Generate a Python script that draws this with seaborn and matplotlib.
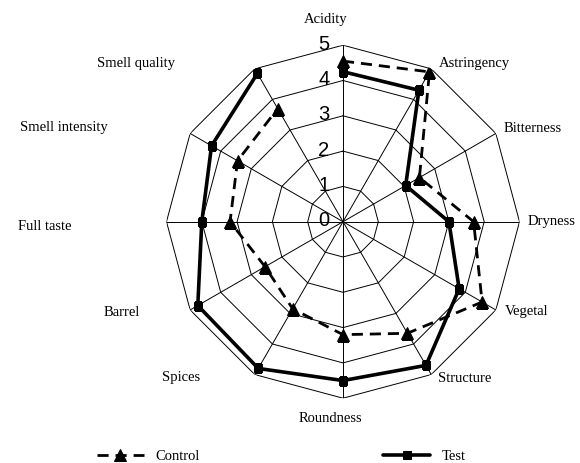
import numpy as np
import matplotlib
matplotlib.use("Agg")
import matplotlib.pyplot as plt
import seaborn as sns

# attributes, clockwise from the top
attributes = ["Acidity", "Astringency", "Bitterness", "Dryness", "Vegetal", "Structure",
              "Roundness", "Spices", "Barrel", "Full taste", "Smell intensity", "Smell quality"]
control = [4.55, 4.9, 2.5, 3.7, 4.55, 3.65, 3.2, 2.85, 2.55, 3.2, 3.45, 3.7]
test = [4.25, 4.3, 2.05, 3.0, 3.8, 4.7, 4.5, 4.8, 4.75, 4.0, 4.3, 4.85]
rings = [1, 2, 3, 4, 5]
ring_labels = ["0", "1", "2", "3", "4", "5"]

# label placement in pixels (x, y from top, horizontal alignment)
label_pos = [(326, 20, "center"), (439, 63, "left"), (504, 128, "left"), (528, 221, "left"),
             (505, 312, "left"), (438, 378, "left"), (330, 418, "center"), (200, 378, "right"),
             (140, 312, "right"), (71, 227, "right"), (108, 127, "right"), (175, 63, "right")]

W, H = 580, 463
sns.set_style("white")
plt.rcParams["font.family"] = ["Liberation Serif", "DejaVu Serif"]
plt.rcParams["text.color"] = "black"

fig = plt.figure(figsize=(W / 100, H / 100), dpi=100)
cx, cy, R = 343, 221.7, 176.5
ax = fig.add_axes([(cx - R) / W, 1 - (cy + R) / H, 2 * R / W, 2 * R / H], projection="polar")
ax.set_theta_zero_location("N")
ax.set_theta_direction(-1)
ax.set_ylim(0, 5)
ax.set_axis_off()

n = len(attributes)
theta = np.deg2rad(np.arange(n) * 360 / n)
theta_closed = np.append(theta, theta[0])

# polygon grid and spokes
for r in rings:
    ax.plot(theta_closed, [r] * (n + 1), color="black", lw=0.7, zorder=1)
for t in theta:
    ax.plot([t, t], [0, 5], color="black", lw=0.7, zorder=1)

sns.lineplot(x=theta_closed, y=control + control[:1], sort=False, ax=ax, color="black",
             lw=2, linestyle=(0, (4, 2.5)), marker="^", markersize=8, markeredgecolor="black",
             label="Control", zorder=3)
sns.lineplot(x=theta_closed, y=test + test[:1], sort=False, ax=ax, color="black",
             lw=2.6, marker="s", markersize=5.5, markeredgecolor="black",
             label="Test", zorder=4)
handles, labels = ax.get_legend_handles_labels()
ax.get_legend().remove()

# radial scale numbers
for i, lab in enumerate(ring_labels):
    ax.annotate(lab, xy=(0, i), xytext=(-19, 1), textcoords="offset pixels",
                ha="center", va="center", fontsize=14.5, color="black",
                family=["Liberation Sans", "DejaVu Sans"], zorder=5)

for lab, (x, y, ha) in zip(attributes, label_pos):
    fig.text(x / W, 1 - y / H, lab, ha=ha, va="center", fontsize=10.5, color="black")

fig.legend(handles, labels, loc="center left", bbox_to_anchor=(97 / W, 1 - 456 / H), ncol=2,
           frameon=False, handlelength=3.2, handletextpad=0.8, columnspacing=12.6,
           borderpad=0, borderaxespad=0, fontsize=10.5)

fig.savefig("out.png", dpi=100)
